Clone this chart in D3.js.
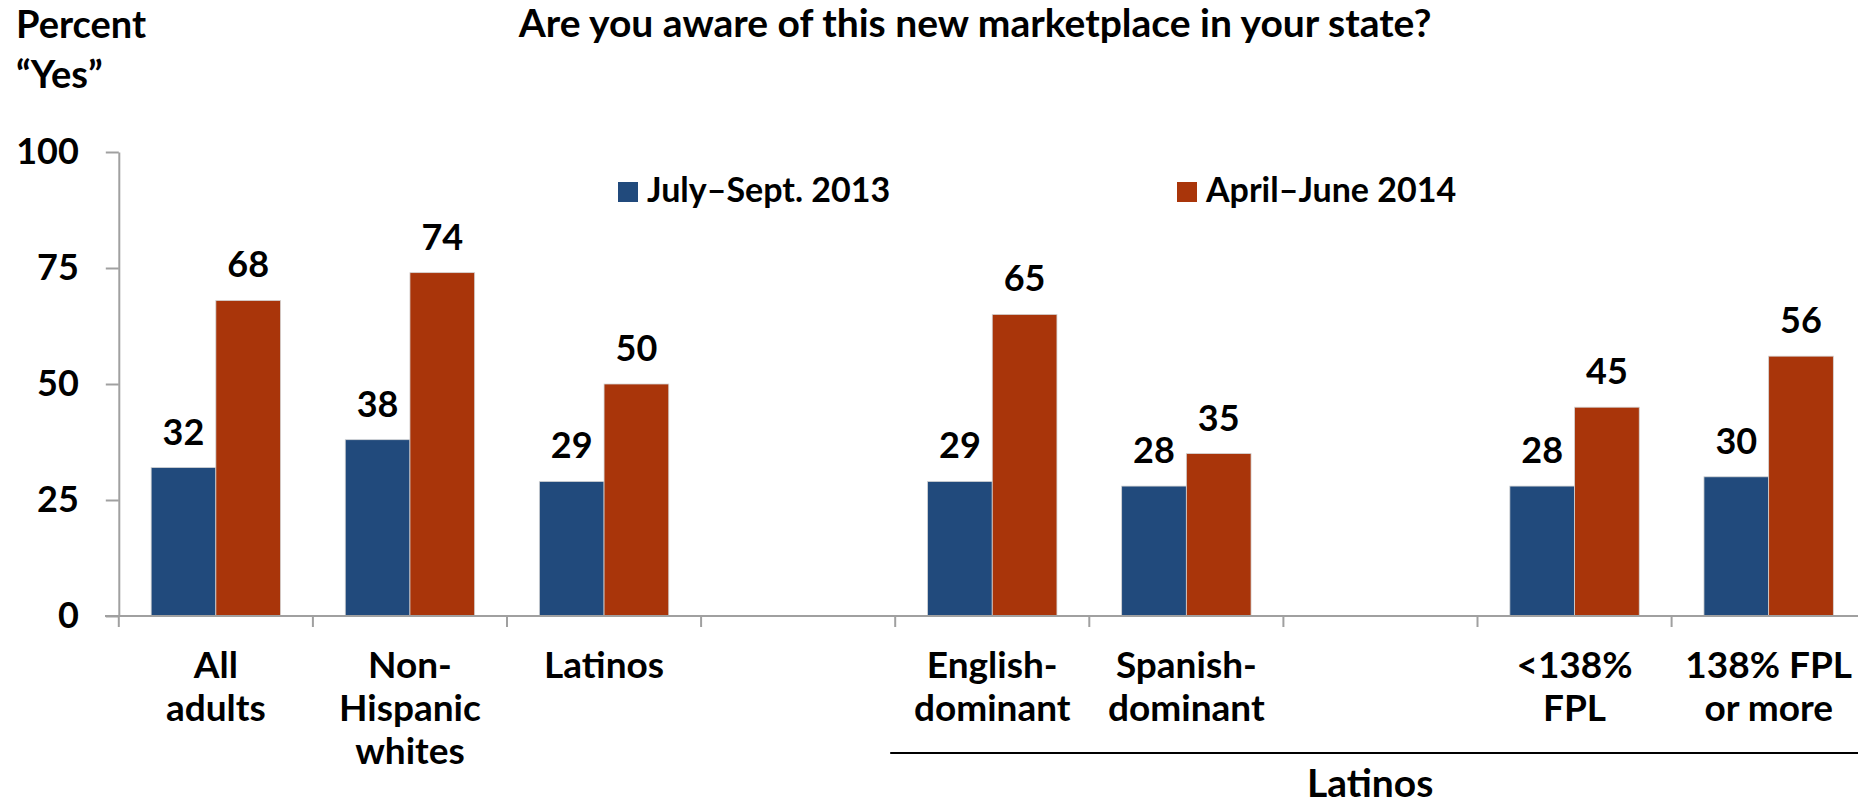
<!DOCTYPE html>
<html>
<head>
<meta charset="utf-8">
<script src="https://cdn.jsdelivr.net/npm/d3@7"></script>
<style>
  html, body { margin: 0; padding: 0; background: #fff; }
  svg text { font-family: Lato, "Open Sans", sans-serif; font-weight: bold; fill: #000; }
</style>
</head>
<body>
<div id="app"></div>
<script>
(function (d3) {

  'use strict'

  // categories (blank slots are the gaps between groups)
  const categoryKeys = ['all', 'white', 'latino', 'gap1', 'english', 'spanish', 'gap2', 'low', 'high']
  const categoryLabels = [
    ['All', 'adults'],
    ['Non-', 'Hispanic', 'whites'],
    ['Latinos'],
    [],
    ['English-', 'dominant'],
    ['Spanish-', 'dominant'],
    [],
    ['<138%', 'FPL'],
    ['138% FPL', 'or more']
  ]
  const seriesNames = ['July\u2013Sept. 2013', 'April\u2013June 2014']
  const julySept2013 = [32, 38, 29, null, 29, 28, null, 28, 30]
  const aprilJune2014 = [68, 74, 50, null, 65, 35, null, 45, 56]
  const yTicks = [0, 25, 50, 75, 100]

  const colors = ['#214a7c', '#a9350a']
  const w = 1858
  const h = 806

  const rows = categoryKeys.map((k, i) => ({
    key: k,
    label: categoryLabels[i],
    values: [julySept2013[i], aprilJune2014[i]]
  }))

  const svg = d3.select('#app')
    .append('svg')
    .attr('width', w)
    .attr('height', h)

  const x0 = d3.scaleBand()
    .domain(categoryKeys)
    .range([118.8, 118.8 + 9 * 194.1])
    .padding(0)

  const x1 = d3.scaleBand()
    .domain([0, 1])
    .range([0, x0.bandwidth()])
    .paddingInner(0)
    .paddingOuter(0.5)

  const y = d3.scaleLinear()
    .domain([0, 100])
    .range([616, 152])

  // y axis
  const yAxis = svg.append('g')
    .attr('transform', 'translate(' + x0.range()[0] + ',0)')
    .call(d3.axisLeft(y).tickValues(yTicks).tickSize(13).tickSizeOuter(0).tickPadding(27))
  yAxis.selectAll('path, line').attr('stroke', '#a0a0a0').attr('stroke-width', 2)
  yAxis.selectAll('text')
    .style('font-size', '36px')
    .style('font-family', 'Lato, sans-serif')
    .style('font-weight', 'bold')
    .attr('fill', '#000')

  // bars
  const groups = svg.append('g')
    .selectAll('g')
    .data(rows)
    .enter()
    .append('g')
    .attr('transform', d => 'translate(' + x0(d.key) + ',0)')

  groups.selectAll('rect')
    .data(d => d.values.map((v, i) => ({ v: v, i: i })).filter(e => e.v !== null))
    .enter()
    .append('rect')
    .attr('x', e => x1(e.i))
    .attr('width', x1.bandwidth())
    .attr('y', e => y(e.v))
    .attr('height', e => y(0) - y(e.v))
    .attr('fill', e => colors[e.i])
    .attr('stroke', '#d4d4d4')
    .attr('stroke-width', 0.8)

  groups.selectAll('text.val')
    .data(d => d.values.map((v, i) => ({ v: v, i: i })).filter(e => e.v !== null))
    .enter()
    .append('text')
    .attr('class', 'val')
    .attr('x', e => x1(e.i) + x1.bandwidth() / 2)
    .attr('y', e => y(e.v) - 23)
    .attr('text-anchor', 'middle')
    .style('font-size', '36px')
    .text(e => e.v)

  // x axis line and ticks at slot edges
  const xAxis = svg.append('g')
  xAxis.append('line')
    .attr('x1', 105).attr('x2', w)
    .attr('y1', y(0)).attr('y2', y(0))
    .attr('stroke', '#a0a0a0').attr('stroke-width', 2)
  xAxis.selectAll('line.tick')
    .data(categoryKeys.concat(['end']))
    .enter()
    .append('line')
    .attr('class', 'tick')
    .attr('x1', (k, i) => x0.range()[0] + i * x0.step())
    .attr('x2', (k, i) => x0.range()[0] + i * x0.step())
    .attr('y1', y(0)).attr('y2', y(0) + 11)
    .attr('stroke', '#a0a0a0').attr('stroke-width', 2)

  // category labels
  const labels = svg.append('g')
    .selectAll('text')
    .data(rows)
    .enter()
    .append('text')
    .attr('text-anchor', 'middle')
    .style('font-size', '37px')
  labels.selectAll('tspan')
    .data(d => d.label.map(l => ({ l: l, x: x0(d.key) + x0.bandwidth() / 2 })))
    .enter()
    .append('tspan')
    .attr('x', t => t.x)
    .attr('y', (t, i) => 678 + i * 43)
    .text(t => t.l)

  // Latinos group bracket
  svg.append('line')
    .attr('x1', x0('english') - 5).attr('x2', w)
    .attr('y1', 753).attr('y2', 753)
    .attr('stroke', '#000').attr('stroke-width', 2)
  svg.append('text')
    .attr('x', (x0('english') - 5 + w) / 2 - 4)
    .attr('y', 797)
    .attr('text-anchor', 'middle')
    .style('font-size', '39px')
    .text('Latinos')

  // title and y label
  svg.append('text')
    .attr('x', 975)
    .attr('y', 37)
    .attr('text-anchor', 'middle')
    .style('font-size', '39px')
    .text('Are you aware of this new marketplace in your state?')
  svg.append('text')
    .attr('x', 16).attr('y', 38)
    .style('font-size', '38px')
    .text('Percent')
  svg.append('text')
    .attr('x', 16).attr('y', 88)
    .style('font-size', '38px')
    .text('\u201cYes\u201d')

  // legend
  const legendX = [618, 1177]
  const legend = svg.append('g')
    .selectAll('g')
    .data(seriesNames)
    .enter()
    .append('g')
    .attr('transform', (d, i) => 'translate(' + legendX[i] + ',182)')
  legend.append('rect')
    .attr('width', 20).attr('height', 20)
    .attr('fill', (d, i) => colors[i])
  legend.append('text')
    .attr('x', 29).attr('y', 20)
    .style('font-size', '34px')
    .text(d => d)

}(d3))
</script>
</body>
</html>
